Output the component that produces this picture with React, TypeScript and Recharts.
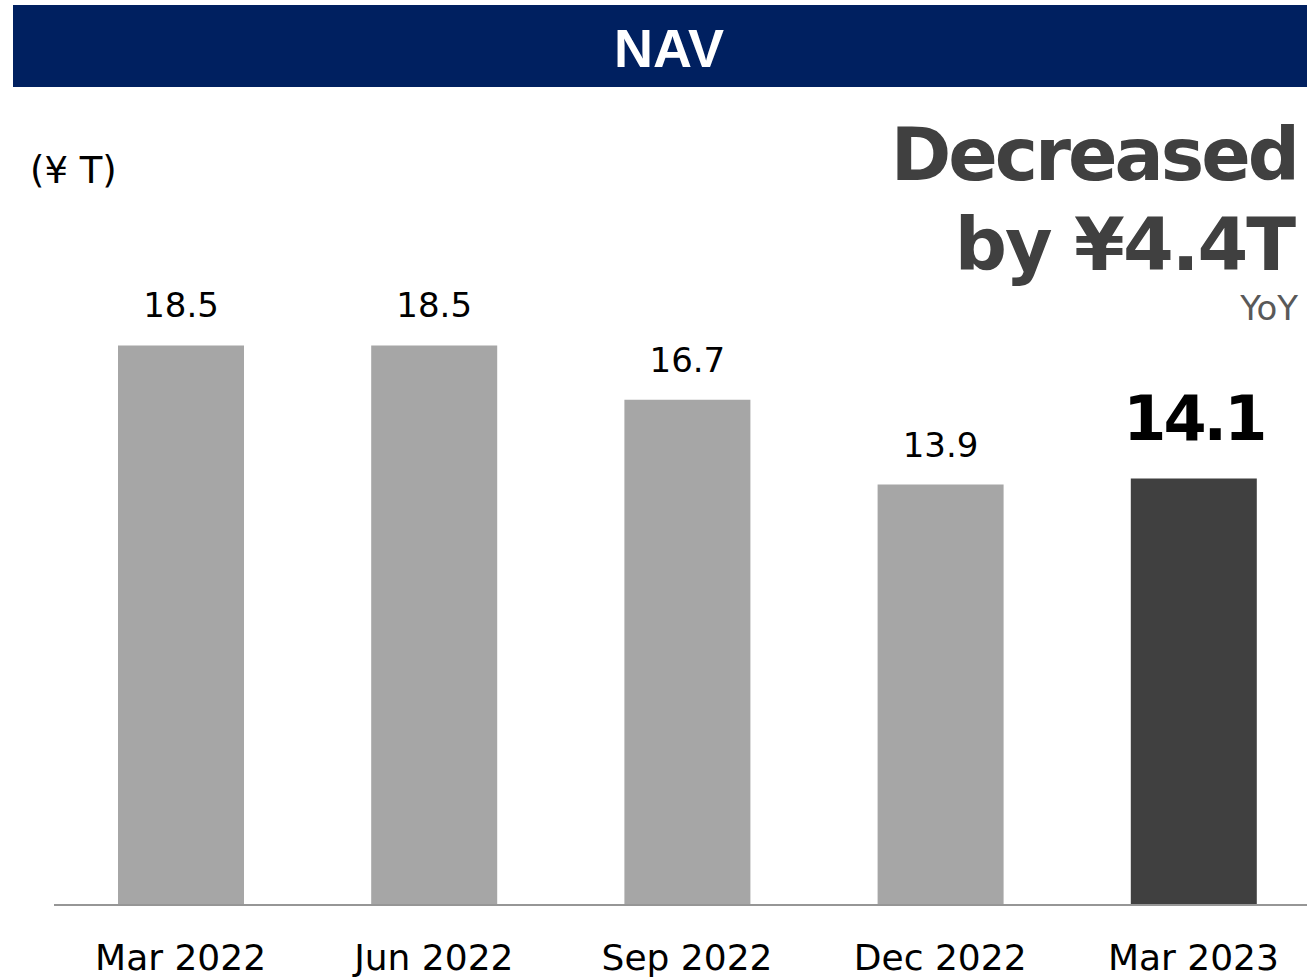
import React from 'react';
import { BarChart, Bar, XAxis, YAxis, Cell, LabelList } from 'recharts';

// NAV by quarter end (¥ T)
const periods = ['Mar 2022', 'Jun 2022', 'Sep 2022', 'Dec 2022', 'Mar 2023'];
const navValues = [18.5, 18.5, 16.7, 13.9, 14.1];
const barColors = ['#a6a6a6', '#a6a6a6', '#a6a6a6', '#a6a6a6', '#404040'];

const data = periods.map((name, i) => ({ name, value: navValues[i] }));

const FONT = '"DejaVu Sans", Verdana, sans-serif';

const PeriodTick = (props: any) => {
  const { x, y, payload } = props;
  return (
    <text x={x} y={y + 57} textAnchor="middle" fontSize={36} fontFamily={FONT} fill="#000">
      {payload.value}
    </text>
  );
};

const ValueLabel = (props: any) => {
  const { x, y, width, value, index } = props;
  const last = index === data.length - 1;
  return (
    <text
      x={x + width / 2}
      y={last ? y - 38 : y - 28}
      textAnchor="middle"
      fontFamily={FONT}
      fontSize={last ? 62 : 34}
      fontWeight={last ? 'bold' : 'normal'}
      letterSpacing={last ? -3 : 0}
      fill="#000"
    >
      {value.toFixed(1)}
    </text>
  );
};

const App: React.FC = () => {
  return (
    <div style={{ position: 'fixed', left: 0, top: 0, width: 1307, height: 977, overflow: 'hidden', background: '#fff' }}>
      <div style={{ position: 'absolute', left: 0, top: 0 }}>
        <BarChart width={1320} height={977} data={data} margin={{ top: 300, right: 0, bottom: 0, left: 54 }}>
          <YAxis hide domain={[0, 20]} />
          <XAxis
            dataKey="name"
            height={72}
            tickLine={false}
            axisLine={{ stroke: '#969696', strokeWidth: 2 }}
            tick={<PeriodTick />}
            interval={0}
          />
          <Bar dataKey="value" barSize={126} isAnimationActive={false}>
            {data.map((entry, index) => (
              <Cell key={`cell-${index}`} fill={barColors[index]} />
            ))}
            <LabelList dataKey="value" content={<ValueLabel />} />
          </Bar>
        </BarChart>
      </div>
      <svg width={1307} height={977} style={{ position: 'absolute', left: 0, top: 0, pointerEvents: 'none' }}>
        <rect x={13} y={5} width={1294} height={82} fill="#002060" />
        <text x={669} y={67} textAnchor="middle" fill="#fff" fontSize={54} fontWeight="bold" fontFamily='"Liberation Sans", Arial, sans-serif'>
          NAV
        </text>
        <text x={30} y={183} fontSize={37} fontFamily={FONT} fill="#000">
          (¥ T)
        </text>
        <text x={1297} y={180} textAnchor="end" fontSize={73} fontWeight="bold" fontFamily={FONT} fill="#404040" letterSpacing={-3}>
          Decreased
        </text>
        <text x={1294} y={270} textAnchor="end" fontSize={73} fontWeight="bold" fontFamily={FONT} fill="#404040" letterSpacing={-2}>
          by ¥4.4T
        </text>
        <text x={1298} y={320} textAnchor="end" fontSize={34} fontFamily={FONT} fill="#595959">
          YoY
        </text>
      </svg>
    </div>
  );
};

export default App;
